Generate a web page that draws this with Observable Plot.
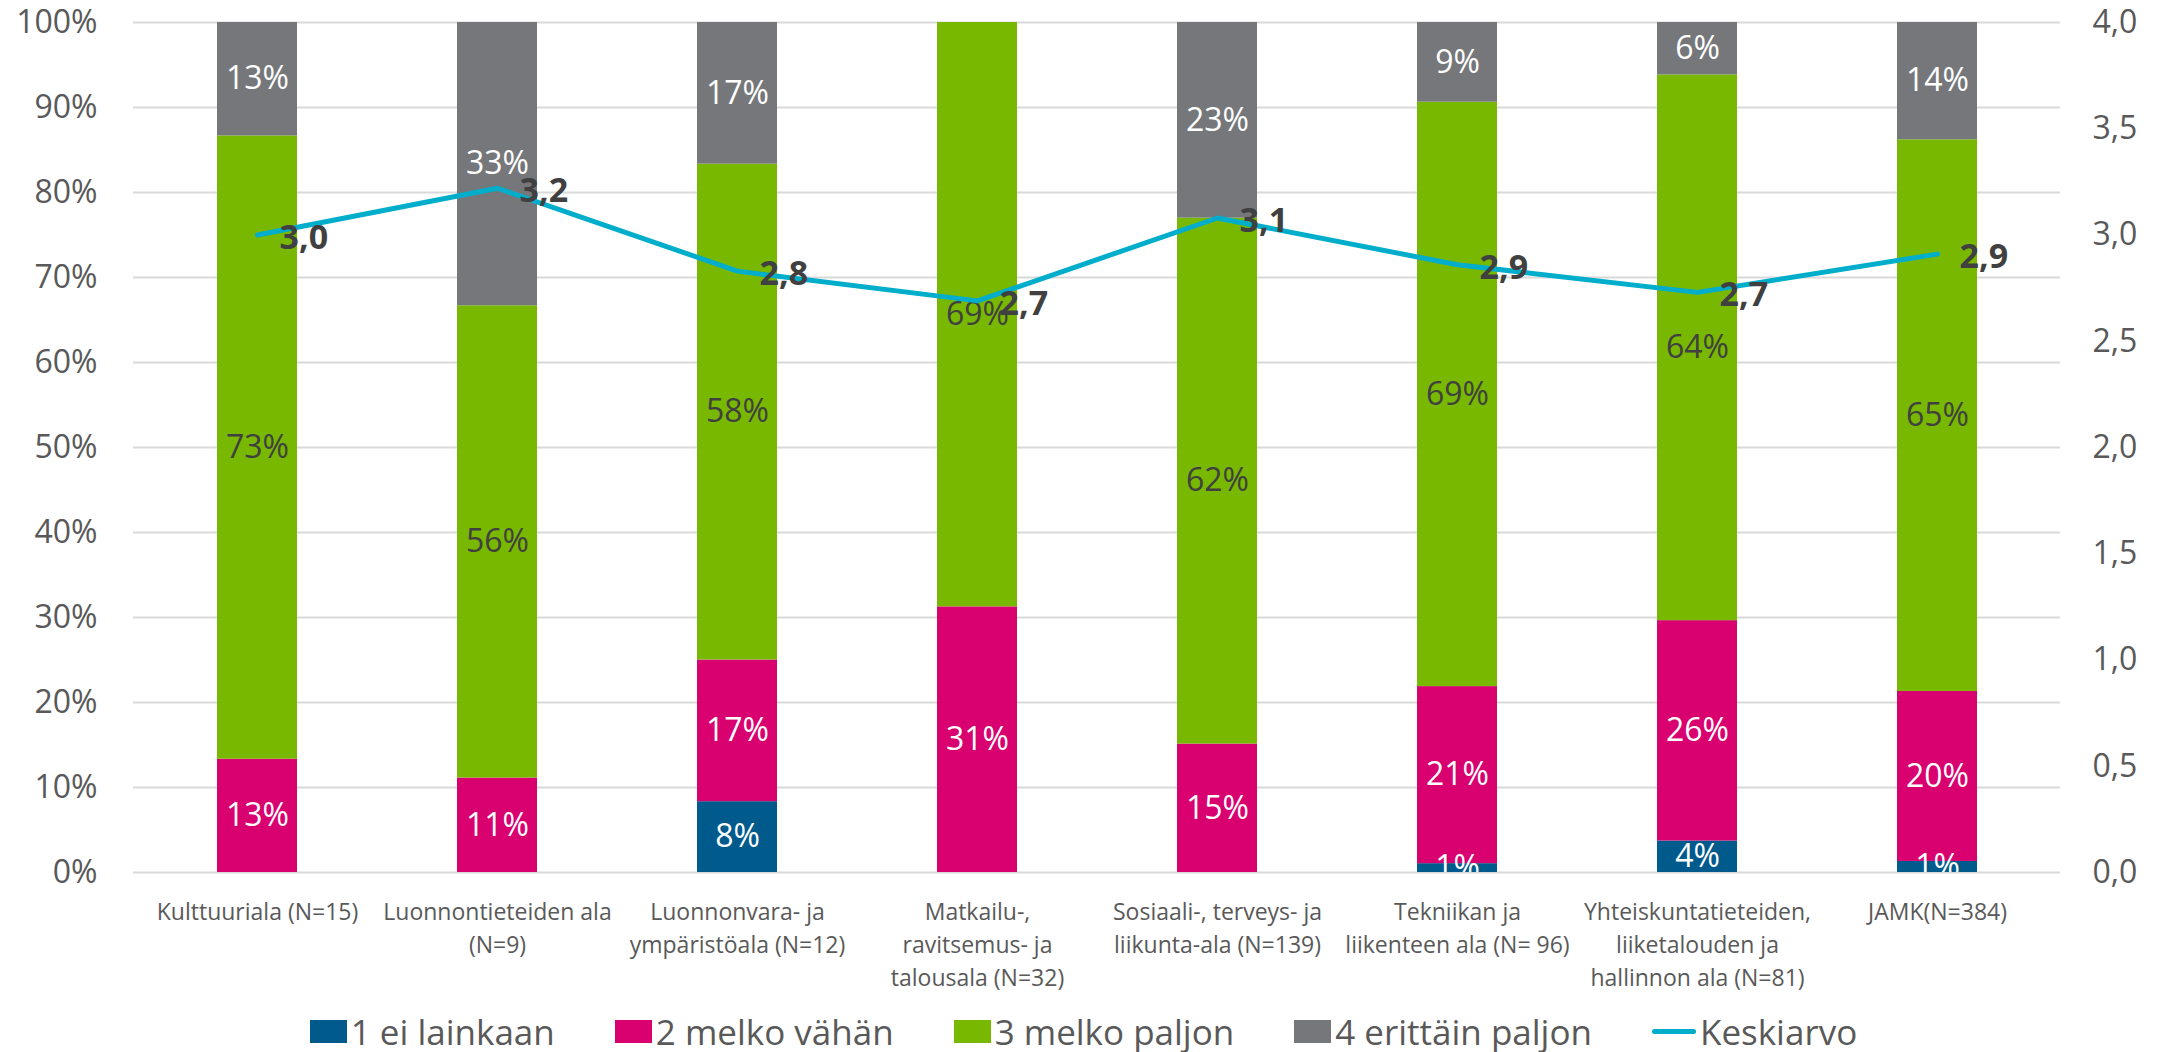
<!DOCTYPE html>
<html>
<head>
<meta charset="utf-8">
<script src="https://cdn.jsdelivr.net/npm/d3@7"></script>
<script src="https://cdn.jsdelivr.net/npm/@observablehq/plot@0.6"></script>
<style>
  html, body { margin: 0; padding: 0; background: #fff; }
  body { width: 2167px; height: 1052px; overflow: hidden; font-family: "Open Sans", sans-serif; }
  #legend { display: flex; justify-content: center; align-items: center; height: 50px; margin-top: 6px; font-size: 35px; line-height: 1; color: #595959; }
  .item { display: flex; align-items: center; margin: 0 30px; }
  .sw { width: 37px; height: 23px; margin-right: 4px; }
  .ln { width: 44px; height: 5px; border-radius: 3px; margin-right: 4px; }
</style>
</head>
<body>
<div id="chart"></div>
<div id="legend"></div>
<script>
const categories = [
  "Kulttuuriala (N=15)",
  "Luonnontieteiden ala\n(N=9)",
  "Luonnonvara- ja\nympäristöala (N=12)",
  "Matkailu-,\nravitsemus- ja\ntalousala (N=32)",
  "Sosiaali-, terveys- ja\nliikunta-ala (N=139)",
  "Tekniikan ja\nliikenteen ala (N= 96)",
  "Yhteiskuntatieteiden,\nliiketalouden ja\nhallinnon ala (N=81)",
  "JAMK(N=384)"
];
const levels = ["1 ei lainkaan", "2 melko vähän", "3 melko paljon", "4 erittäin paljon"];
const levelColors = ["#005A8C", "#D9006F", "#78B800", "#76777A"];
const lvl1 = [0, 0, 8.33, 0, 0, 1.04, 3.70, 1.30];
const lvl2 = [13.33, 11.11, 16.67, 31.25, 15.11, 20.83, 25.93, 20.00];
const lvl3 = [73.33, 55.56, 58.33, 68.75, 61.87, 68.75, 64.20, 64.90];
const lvl4 = [13.34, 33.33, 16.67, 0, 23.02, 9.38, 6.17, 13.80];
const means = [3.00, 3.22, 2.83, 2.69, 3.08, 2.86, 2.73, 2.91];
const meanLabel = "Keskiarvo";
const meanColor = "#00AECB";
const leftTicks = [0, 10, 20, 30, 40, 50, 60, 70, 80, 90, 100];
const rightTicks = [0, 0.5, 1, 1.5, 2, 2.5, 3, 3.5, 4];
const rightMax = 4;

const series = [lvl1, lvl2, lvl3, lvl4];
const rows = [];
categories.forEach((c, i) => {
  series.forEach((s, j) => rows.push({cat: c, level: levels[j], li: j, value: s[i]}));
});
const meanRows = categories.map((c, i) => ({cat: c, mean: means[i], y: means[i] / rightMax * 100}));
const fmtMean = v => v.toFixed(1).replace(".", ",");
const pct = d => d.value > 0 ? Math.round(d.value) + "%" : "";

const plot = Plot.plot({
  width: 2167,
  height: 1000,
  marginTop: 22,
  marginBottom: 128,
  marginLeft: 133,
  marginRight: 107,
  style: {fontFamily: "'Open Sans', sans-serif", background: "#fff"},
  x: {domain: categories, paddingInner: 0.668, paddingOuter: 0.334, label: null},
  y: {domain: [0, 100], label: null},
  color: {domain: levels, range: levelColors},
  marks: [
    Plot.gridY(leftTicks, {stroke: "#D9D9D9", strokeOpacity: 1, strokeWidth: 2}),
    Plot.axisY(leftTicks, {anchor: "left", tickSize: 0, tickPadding: 36, fontSize: 32, fill: "#595959", tickFormat: d => d + "%", label: null}),
    Plot.axisY(rightTicks.map(v => v / rightMax * 100), {anchor: "right", tickSize: 0, tickPadding: 32, fontSize: 32, fill: "#595959", tickFormat: d => fmtMean(d / 100 * rightMax), label: null}),
    Plot.axisX({tickSize: 0, tickPadding: 24, fontSize: 23, lineHeight: 1.43, fill: "#595959", label: null}),
    Plot.barY(rows, {x: "cat", y: "value", fill: "level", z: "level"}),
    Plot.text(rows, Plot.stackY({x: "cat", y: "value", z: "level", text: d => d.li !== 2 ? pct(d) : "", fill: "white", fontSize: 32, clip: true})),
    Plot.text(rows, Plot.stackY({x: "cat", y: "value", z: "level", text: d => d.li === 2 ? pct(d) : "", fill: "#404040", fontSize: 32, clip: true})),
    Plot.line(meanRows, {x: "cat", y: "y", stroke: meanColor, strokeWidth: 5, strokeLinejoin: "round", strokeLinecap: "round"}),
    Plot.text(meanRows, {x: "cat", y: "y", text: d => fmtMean(d.mean), dx: 22, dy: 3, textAnchor: "start", fontWeight: "bold", fontSize: 34, fill: "#404040"})
  ]
});
document.getElementById("chart").appendChild(plot);

const legend = document.getElementById("legend");
levels.forEach((l, i) => {
  const it = document.createElement("div");
  it.className = "item";
  it.innerHTML = `<div class="sw" style="background:${levelColors[i]}"></div><span>${l}</span>`;
  legend.appendChild(it);
});
const it = document.createElement("div");
it.className = "item";
it.innerHTML = `<div class="ln" style="background:${meanColor}"></div><span>${meanLabel}</span>`;
legend.appendChild(it);
</script>
</body>
</html>
